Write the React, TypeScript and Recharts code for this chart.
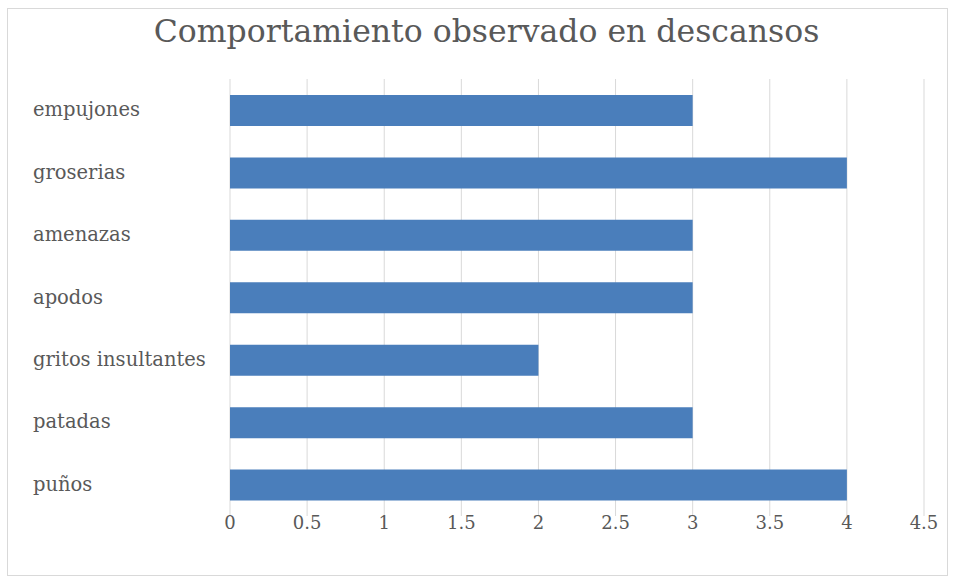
import { BarChart, Bar, XAxis, YAxis, CartesianGrid } from "recharts";

const categories = [
  "empujones",
  "groserias",
  "amenazas",
  "apodos",
  "gritos insultantes",
  "patadas",
  "puños",
];
const counts = [3, 4, 3, 3, 2, 3, 4];
const xTicks = [0, 0.5, 1, 1.5, 2, 2.5, 3, 3.5, 4, 4.5];

const data = categories.map((c, i) => ({ name: c, value: counts[i] }));

const FONT = "'DejaVu Serif', serif";

function CategoryTick(props: any) {
  const { y, payload } = props;
  return (
    <text x={33} y={y} dy={6} textAnchor="start" fill="#595959" fontSize={19.5} fontFamily={FONT}>
      {payload.value}
    </text>
  );
}

export default function App() {
  return (
    <div style={{ position: "absolute", left: 0, top: 0, width: 953, height: 580, background: "#fff" }}>
      <div
        style={{
          position: "absolute",
          left: 7,
          top: 8,
          width: 941,
          height: 568,
          border: "1px solid #d9d9d9",
          boxSizing: "border-box",
        }}
      />
      <div
        style={{
          position: "absolute",
          left: 0,
          top: 13,
          width: 973,
          textAlign: "center",
          fontFamily: FONT,
          fontSize: 31.5,
          color: "#595959",
        }}
      >
        Comportamiento observado en descansos
      </div>
      <div style={{ position: "absolute", left: 0, top: 0 }}>
        <BarChart
          width={953}
          height={580}
          layout="vertical"
          data={data}
          margin={{ top: 79, right: 29, bottom: 0, left: 0 }}
          barCategoryGap="25%"
        >
          <CartesianGrid horizontal={false} stroke="#d9d9d9" />
          <XAxis
            type="number"
            domain={[0, 4.5]}
            ticks={xTicks}
            axisLine={false}
            tickLine={false}
            height={64}
            tick={{ fill: "#595959", fontSize: 18, fontFamily: FONT, dy: -6 }}
            tickMargin={0}
          />
          <YAxis
            type="category"
            dataKey="name"
            width={230}
            axisLine={false}
            tickLine={false}
            tick={<CategoryTick />}
          />
          <Bar dataKey="value" fill="#4a7ebb" barSize={31} isAnimationActive={false} />
        </BarChart>
      </div>
    </div>
  );
}
